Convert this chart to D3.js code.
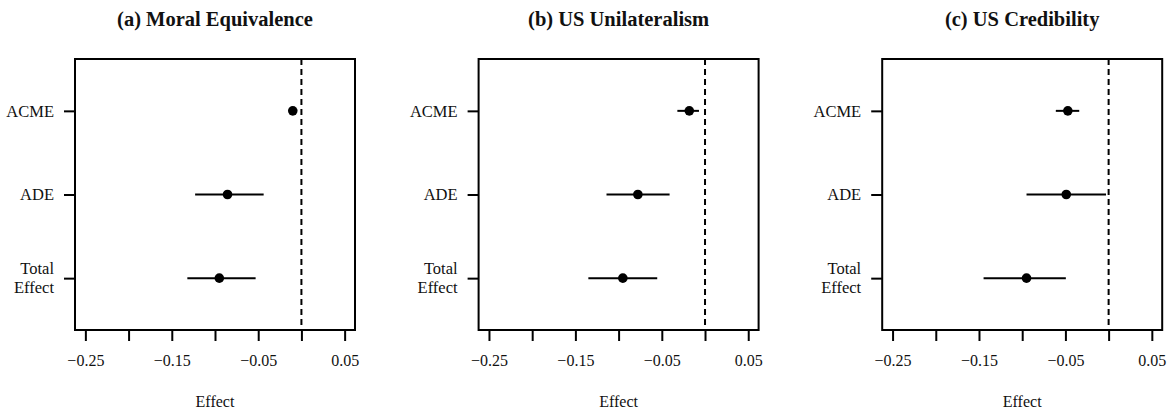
<!DOCTYPE html>
<html>
<head>
<meta charset="utf-8">
<script src="https://cdn.jsdelivr.net/npm/d3@7"></script>
<style>
  html, body { margin: 0; padding: 0; background: #fff; }
  svg { display: block; }
  text { font-family: "Liberation Serif", "Times New Roman", serif; fill: #111; }
</style>
</head>
<body>
<svg id="chart" width="1173" height="413"></svg>
<script>
// Mediation estimates: point estimate with 95% interval, one panel per outcome
const panelTitles = ["(a) Moral Equivalence", "(b) US Unilateralism", "(c) US Credibility"];
const effectNames = ["ACME", "ADE", "Total Effect"];

const moralEst   = [-0.010, -0.0855, -0.095];
const moralLow   = [-0.013, -0.123, -0.132];
const moralHigh  = [-0.007, -0.0437, -0.053];

const unilatEst  = [-0.0182, -0.0777, -0.0951];
const unilatLow  = [-0.032, -0.114, -0.135];
const unilatHigh = [-0.007, -0.041, -0.0553];

const credEst    = [-0.0472, -0.049, -0.095];
const credLow    = [-0.0611, -0.095, -0.1447];
const credHigh   = [-0.034, -0.003, -0.0495];

const xTicks      = [-0.25, -0.20, -0.15, -0.10, -0.05, 0, 0.05];
const xTickLabels = [-0.25, -0.15, -0.05, 0.05];
const xTitle = "Effect";

const panels = [
  { title: panelTitles[0], est: moralEst,  lo: moralLow,  hi: moralHigh },
  { title: panelTitles[1], est: unilatEst, lo: unilatLow, hi: unilatHigh },
  { title: panelTitles[2], est: credEst,   lo: credLow,   hi: credHigh }
];

const svg = d3.select("#chart");
const boxW = 280, boxTop = 59, boxBottom = 330;
const fmt = v => (v < 0 ? "\u2212" : "") + Math.abs(v).toFixed(2);

panels.forEach((p, i) => {
  const left = 75 + i * 403.6;
  const g = svg.append("g").attr("transform", `translate(${left},0)`);

  // R-style 4% padding around the x limits [-0.25, 0.05]
  const x = d3.scaleLinear().domain([-0.262, 0.062]).range([0, boxW]);
  // rows at 1..3 with limits [0.5, 3.5] padded by 4%
  const y = d3.scaleLinear().domain([0.38, 3.62]).range([boxBottom, boxTop]);
  const rowPos = d => 3 - d; // ACME on top

  // reference line at zero
  g.append("line")
    .attr("x1", x(0)).attr("x2", x(0))
    .attr("y1", boxTop).attr("y2", boxBottom)
    .attr("stroke", "#000").attr("stroke-width", 2)
    .attr("stroke-dasharray", "6,4");

  // intervals
  g.selectAll("line.ci").data(effectNames).join("line")
    .attr("class", "ci")
    .attr("x1", (d, k) => x(p.lo[k])).attr("x2", (d, k) => x(p.hi[k]))
    .attr("y1", (d, k) => y(rowPos(k))).attr("y2", (d, k) => y(rowPos(k)))
    .attr("stroke", "#000").attr("stroke-width", 2);

  // point estimates
  g.selectAll("circle.pt").data(effectNames).join("circle")
    .attr("class", "pt")
    .attr("cx", (d, k) => x(p.est[k]))
    .attr("cy", (d, k) => y(rowPos(k)))
    .attr("r", 4.8).attr("fill", "#000");

  // frame
  g.append("rect")
    .attr("x", 0).attr("y", boxTop)
    .attr("width", boxW).attr("height", boxBottom - boxTop)
    .attr("fill", "none").attr("stroke", "#000").attr("stroke-width", 2);

  // x axis ticks
  const xAxis = d3.axisBottom(x).tickValues(xTicks).tickSize(11)
    .tickFormat(v => xTickLabels.some(l => Math.abs(l - v) < 1e-9) ? fmt(v) : "");
  const ax = g.append("g").attr("transform", `translate(0,${boxBottom})`).call(xAxis);
  ax.select(".domain").remove();
  ax.selectAll(".tick line").attr("stroke", "#000").attr("stroke-width", 2);
  ax.selectAll(".tick text")
    .attr("y", 25).attr("dy", "0.71em")
    .style("font-family", "Liberation Serif, serif")
    .style("font-size", "16px").attr("fill", "#111");

  // y axis ticks
  const yAxis = d3.axisLeft(y).tickValues([3, 2, 1]).tickSize(11).tickFormat("");
  const ay = g.append("g").call(yAxis);
  ay.select(".domain").remove();
  ay.selectAll(".tick line").attr("stroke", "#000").attr("stroke-width", 2);

  // y labels
  effectNames.forEach((name, k) => {
    const words = name.split(" ");
    const cy = y(rowPos(k));
    const t = g.append("text")
      .attr("text-anchor", "end")
      .attr("x", -21)
      .style("font-size", "16.5px");
    const lh = 19;
    words.forEach((w, j) => {
      t.append("tspan")
        .attr("x", -21)
        .attr("y", cy + (j - (words.length - 1) / 2) * lh)
        .attr("dy", "0.35em")
        .text(w);
    });
  });

  // panel title
  g.append("text")
    .attr("x", boxW / 2).attr("y", 26)
    .attr("text-anchor", "middle")
    .style("font-size", "20.5px").style("font-weight", "bold")
    .text(p.title);

  // x title
  g.append("text")
    .attr("x", boxW / 2).attr("y", 407)
    .attr("text-anchor", "middle")
    .style("font-size", "16px")
    .text(xTitle);
});
</script>
</body>
</html>
